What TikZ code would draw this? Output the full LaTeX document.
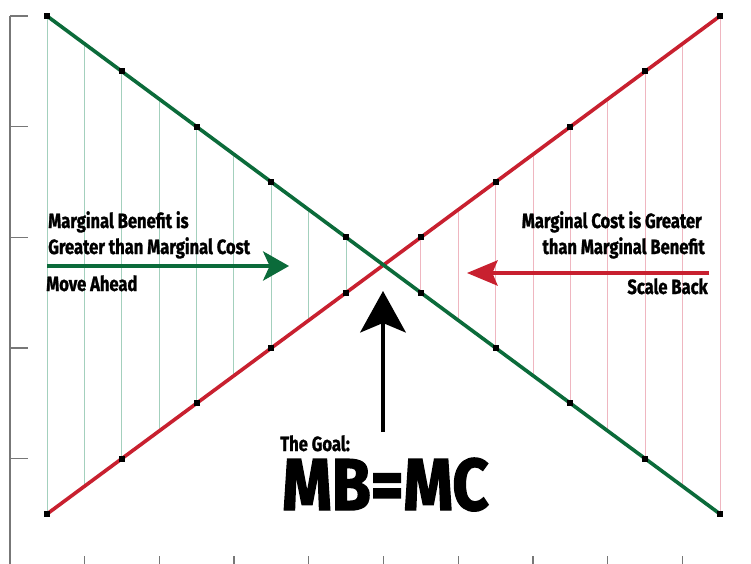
\documentclass[tikz,border=0pt]{standalone}
\usepackage{fontspec}
\setmainfont{Fira Sans}[FakeStretch=0.8,FakeBold=1.2]
\newfontfamily\bigfam{Fira Sans}[FakeStretch=0.86,FakeBold=2]
\usetikzlibrary{arrows.meta}
\definecolor{mbgreen}{HTML}{0B6B3A}
\definecolor{mcred}{HTML}{C8202F}
\definecolor{lightgreen}{HTML}{A3D0BD}
\definecolor{lightred}{HTML}{EFB6C0}
\definecolor{axisgray}{HTML}{777777}
\begin{document}
\begin{tikzpicture}[x=0.75pt,y=-0.75pt,
  lbl/.style={inner sep=0pt,font=\fontsize{15.5}{17}\selectfont\bfseries},
  biglbl/.style={inner sep=0pt,font=\bigfam\fontsize{55}{60}\selectfont\bfseries},
  axisline/.style={draw=axisgray,line width=0.9pt},
  thingreen/.style={draw=lightgreen,line width=0.75pt},
  thinred/.style={draw=lightred,line width=0.75pt},
  mbline/.style={draw=mbgreen,line width=2.7pt},
  mcline/.style={draw=mcred,line width=2.7pt},
  marker/.style={fill=black,inner sep=0pt,minimum size=4.5pt,draw=none},
  garrow/.style={draw=mbgreen,line width=2.3pt,-{Stealth[length=19.5pt,width=22pt,inset=5pt]}},
  rarrow/.style={draw=mcred,line width=2.3pt,-{Stealth[length=23pt,width=19pt,inset=4pt]}},
  karrow/.style={draw=black,line width=3.7pt,-{Stealth[length=31pt,width=34pt,inset=7pt]}}
]
\useasboundingbox (0,0) rectangle (751,564);
\fill[white] (0,0) rectangle (751,564);
% axes
\coordinate (ax0) at (10,16);
\coordinate (ax1) at (10,564);
\draw[axisline] (ax0) -- (ax1);
\foreach \j in {0,2,4,6,8} {
  \coordinate (lt\j a) at (10,16+\j*55.333);
  \coordinate (lt\j b) at (28,16+\j*55.333);
  \draw[axisline] (lt\j a) -- (lt\j b);
}
\foreach \m in {0,...,8} {
  \coordinate (bt\m a) at (84.4+\m*74.778,556);
  \coordinate (bt\m b) at (84.4+\m*74.778,564);
  \draw[axisline] (bt\m a) -- (bt\m b);
}
% thin vertical lines between the curves
\foreach \k in {0,...,8} {
  \coordinate (vg\k a) at (47+\k*37.389,16+\k*27.667);
  \coordinate (vg\k b) at (47+\k*37.389,514-\k*27.667);
  \draw[thingreen] (vg\k a) -- (vg\k b);
}
\foreach \k in {10,...,18} {
  \coordinate (vr\k a) at (47+\k*37.389,514-\k*27.667);
  \coordinate (vr\k b) at (47+\k*37.389,16+\k*27.667);
  \draw[thinred] (vr\k a) -- (vr\k b);
}
% main lines
\foreach \j in {0,...,9} {
  \coordinate (g\j) at (47+\j*74.778,16+\j*55.333);
  \coordinate (r\j) at (47+\j*74.778,514-\j*55.333);
}
\draw[mcline] (r0) -- (r9);
\draw[mbline] (g0) -- (g9);
\foreach \j in {0,...,9} {
  \node[marker] (gm\j) at (g\j) {};
  \node[marker] (rm\j) at (r\j) {};
}
% arrows
\coordinate (ga0) at (47,266);
\coordinate (ga1) at (289,266);
\draw[garrow] (ga0) -- (ga1);
\coordinate (ra0) at (709,273);
\coordinate (ra1) at (467,273);
\draw[rarrow] (ra0) -- (ra1);
\coordinate (ka0) at (383,432);
\coordinate (ka1) at (383,291);
\draw[karrow] (ka0) -- (ka1);
% labels
\node[lbl,anchor=base west] (mb1) at (48,228) {Marginal Benefit is};
\node[lbl,anchor=base west] (mb2) at (48,254) {Greater than Marginal Cost};
\node[lbl,anchor=base west] (mv) at (46,291) {Move Ahead};
\node[lbl,anchor=base east] (mc1) at (702,228) {Marginal Cost is Greater};
\node[lbl,anchor=base east] (mc2) at (705,254) {than Marginal Benefit};
\node[lbl,anchor=base east] (sb) at (708,294) {Scale Back};
\node[lbl,anchor=base west] (goal) at (280,451) {The Goal:};
\node[biglbl,anchor=base west] (eq) at (282,510) {MB=MC};
\end{tikzpicture}
\end{document}
